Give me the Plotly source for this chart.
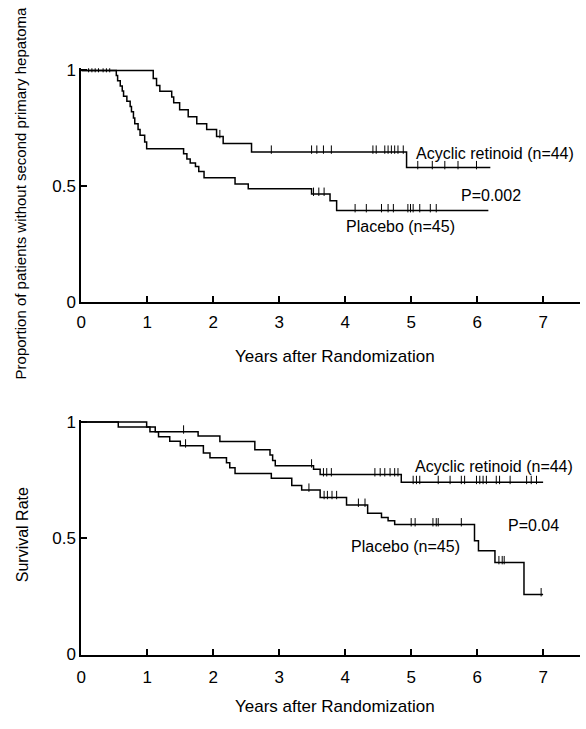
import numpy as np
import plotly.graph_objects as go

# ---------------- Data: top panel (second primary hepatoma) ----------------
top_acyc_t = [1.09, 1.14, 1.19, 1.37, 1.40, 1.49, 1.62, 1.75, 1.90, 2.05, 2.15, 2.58, 4.93]
top_acyc_s = [0.965, 0.935, 0.91, 0.885, 0.86, 0.83, 0.80, 0.77, 0.745, 0.715, 0.684, 0.648, 0.581]
top_acyc_end = 6.2
top_acyc_cens = [0.16, 0.26, 0.38, 2.10, 2.88, 3.49, 3.57, 3.67, 3.79, 4.42, 4.47, 4.60, 4.65,
                 4.70, 4.75, 4.80, 4.88, 5.10, 5.32, 5.51, 5.71, 5.99]

top_plac_t = [0.53, 0.55, 0.59, 0.62, 0.64, 0.69, 0.74, 0.76, 0.79, 0.81, 0.86, 0.89, 0.96, 0.99,
              1.55, 1.60, 1.65, 1.73, 1.78, 1.86, 2.33, 2.53, 3.49, 3.77, 3.87]
top_plac_s = [0.978, 0.956, 0.933, 0.911, 0.889, 0.867, 0.844, 0.822, 0.795, 0.770, 0.745, 0.720,
              0.691, 0.662, 0.640, 0.618, 0.600, 0.585, 0.564, 0.536, 0.510, 0.489, 0.466, 0.437, 0.395]
top_plac_end = 6.17
top_plac_cens = [0.11, 0.21, 0.33, 0.43, 3.52, 3.60, 3.68, 4.15, 4.32, 4.55, 4.65, 4.73, 4.95,
                 4.99, 5.03, 5.13, 5.29, 5.38]

# ---------------- Data: bottom panel (survival) ----------------
bot_acyc_t = [0.99, 1.04, 1.77, 2.10, 2.63, 2.86, 2.90, 2.94, 3.52, 3.62, 4.85]
bot_acyc_s = [0.979, 0.958, 0.940, 0.916, 0.881, 0.858, 0.835, 0.812, 0.797, 0.774, 0.741]
bot_acyc_end = 7.0
bot_acyc_cens = [1.55, 3.49, 3.67, 3.72, 3.79, 4.45, 4.53, 4.60, 4.68, 4.75, 4.80, 5.03, 5.08,
                 5.13, 5.41, 5.59, 5.76, 5.81, 5.99, 6.04, 6.09, 6.14, 6.29, 6.34, 6.50, 6.75,
                 6.82, 6.90]

bot_plac_t = [0.56, 1.12, 1.17, 1.34, 1.50, 1.85, 1.95, 2.20, 2.25, 2.33, 2.88, 3.19, 3.34,
              3.62, 4.02, 4.34, 4.55, 4.65, 4.75, 5.96, 6.02, 6.27, 6.71]
bot_plac_s = [0.979, 0.958, 0.937, 0.918, 0.898, 0.867, 0.846, 0.825, 0.804, 0.779, 0.758, 0.727,
              0.708, 0.676, 0.643, 0.608, 0.590, 0.575, 0.559, 0.489, 0.447, 0.396, 0.258]
bot_plac_end = 7.0
bot_plac_cens = [1.58, 3.45, 3.68, 3.73, 3.80, 3.87, 4.20, 4.30, 5.00, 5.06, 5.33, 5.38, 5.41,
                 5.76, 6.33, 6.38, 6.41, 6.97]

x_ticks = [0, 1, 2, 3, 4, 5, 6, 7]
y_ticks = [0, 0.5, 1]
y_ticktext = ["0", "0.5", "1"]

W, H = 586, 729
FONT = "Arial, 'Liberation Sans', Helvetica, sans-serif"


def step_xy(t, s, end):
    return [0.0] + list(t) + [end], [1.0] + list(s) + [s[-1]]


def censor_y(t, s, c):
    t = np.asarray(t)
    s = np.asarray(s)
    idx = np.searchsorted(t, np.asarray(c), side="right") - 1
    return np.where(idx >= 0, s[np.clip(idx, 0, None)], 1.0)


fig = go.Figure()

series = [
    (top_acyc_t, top_acyc_s, top_acyc_end, top_acyc_cens, "x", "y"),
    (top_plac_t, top_plac_s, top_plac_end, top_plac_cens, "x", "y"),
    (bot_acyc_t, bot_acyc_s, bot_acyc_end, bot_acyc_cens, "x2", "y2"),
    (bot_plac_t, bot_plac_s, bot_plac_end, bot_plac_cens, "x2", "y2"),
]
for t, s, end, cens, xa, ya in series:
    xs, ys = step_xy(t, s, end)
    fig.add_trace(go.Scatter(x=xs, y=ys, mode="lines", line=dict(color="black", width=1.5, shape="hv"),
                             xaxis=xa, yaxis=ya, hoverinfo="skip"))
    cy = censor_y(t, s, cens) + 0.010
    fig.add_trace(go.Scatter(x=cens, y=cy, mode="markers",
                             marker=dict(symbol="line-ns", size=6, line=dict(color="black", width=1)),
                             xaxis=xa, yaxis=ya, hoverinfo="skip"))

xdom = [77 / W, 580 / W]
top_dom = [1 - 302 / H, 1 - 62.6 / H]
bot_dom = [1 - 663 / H, 1 - 422.6 / H]

axcommon = dict(showline=True, linewidth=2, linecolor="black", ticks="inside", ticklen=6, tickwidth=2,
                tickcolor="black", showgrid=False, zeroline=False,
                tickfont=dict(family=FONT, size=17, color="black"))

fig.update_layout(
    width=W, height=H, margin=dict(l=0, r=0, t=0, b=0),
    paper_bgcolor="white", plot_bgcolor="white", showlegend=False,
    xaxis=dict(domain=xdom, range=[0, 7.56], tickvals=x_ticks, anchor="y", ticklabelstandoff=4, **axcommon),
    yaxis=dict(domain=top_dom, range=[0, 1.01], tickvals=y_ticks, ticktext=y_ticktext, anchor="x", **axcommon),
    xaxis2=dict(domain=xdom, range=[0, 7.56], tickvals=x_ticks, anchor="y2", ticklabelstandoff=6, **axcommon),
    yaxis2=dict(domain=bot_dom, range=[0, 1.01], tickvals=y_ticks, ticktext=y_ticktext, anchor="x2", **axcommon),
)

lab_font = dict(family=FONT, size=16, color="black")
annots = [
    dict(x=5.05, y=0.64, xref="x", yref="y", text="Acyclic retinoid (n=44)"),
    dict(x=5.72, y=0.46, xref="x", yref="y", text="P=0.002"),
    dict(x=3.98, y=0.325, xref="x", yref="y", text="Placebo (n=45)"),
    dict(x=5.03, y=0.811, xref="x2", yref="y2", text="Acyclic retinoid (n=44)"),
    dict(x=6.43, y=0.555, xref="x2", yref="y2", text="P=0.04"),
    dict(x=4.05, y=0.466, xref="x2", yref="y2", text="Placebo (n=45)"),
]
for a in annots:
    fig.add_annotation(showarrow=False, xanchor="left", yanchor="middle", font=lab_font, **a)

title_font = dict(family=FONT, size=17, color="black")
fig.add_annotation(x=333 / W, y=1 - 358 / H, xref="paper", yref="paper", text="Years after Randomization",
                   showarrow=False, xanchor="center", yanchor="middle", font=title_font)
fig.add_annotation(x=333 / W, y=1 - 716 / H, xref="paper", yref="paper", text="Years after Randomization",
                   showarrow=False, xanchor="center", yanchor="middle", font=title_font)
fig.add_annotation(x=16 / W, y=1 - 190 / H, xref="paper", yref="paper",
                   text="Proportion of patients without second primary hepatoma", textangle=-90,
                   showarrow=False, xanchor="center", yanchor="middle", font=dict(family=FONT, size=15, color="black"))
fig.add_annotation(x=18 / W, y=1 - 540 / H, xref="paper", yref="paper", text="Survival Rate", textangle=-90,
                   showarrow=False, xanchor="center", yanchor="middle", font=dict(family=FONT, size=16, color="black"))

fig.write_html("out.html", config={"displayModeBar": False},
               post_script="document.body.style.margin='0';document.body.style.overflow='hidden';")
